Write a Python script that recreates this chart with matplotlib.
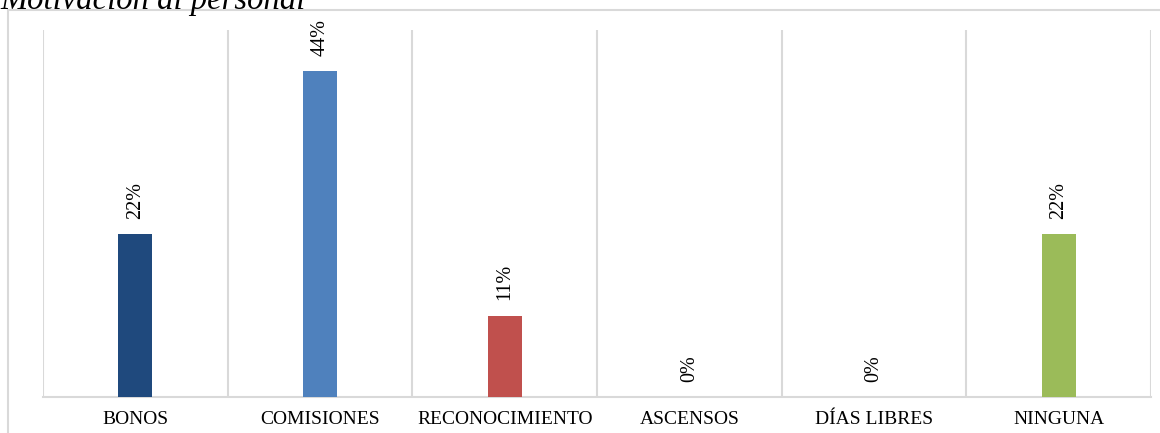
import matplotlib.pyplot as plt
from matplotlib.patches import Rectangle

categorias = ['BONOS', 'COMISIONES', 'RECONOCIMIENTO', 'ASCENSOS', 'DÍAS LIBRES', 'NINGUNA']
valores = [0.222, 0.444, 0.111, 0.0, 0.0, 0.222]
etiquetas = ['22%', '44%', '11%', '0%', '0%', '22%']
colores = ['#1F497D', '#4F81BD', '#C0504D', '#4F81BD', '#4F81BD', '#9BBB59']
titulo = 'Motivación al personal'

plt.rcParams['font.family'] = ['Liberation Serif', 'DejaVu Serif']

W, H = 1160, 433
fig = plt.figure(figsize=(W / 100, H / 100), dpi=100)

# marco exterior gris (cortado a la derecha y abajo)
fig.patches.append(Rectangle((8 / W, -0.1), 1.2, (H - 10) / H + 0.1,
                             transform=fig.transFigure, fill=False,
                             edgecolor='#D9D9D9', linewidth=1.5, zorder=0))

ax = fig.add_axes([43 / W, (H - 397) / H, (1151 - 43) / W, (397 - 30) / H])
x = list(range(len(categorias)))
ax.bar(x, valores, width=0.185, color=colores, zorder=3)

for xi, v, lab in zip(x, valores, etiquetas):
    ax.annotate(lab, (xi, v), xytext=(0, 11), textcoords='offset points',
                rotation=90, ha='center', va='bottom', fontsize=14.5, color='#000000')

ax.set_xlim(-0.5, len(categorias) - 0.5)
ax.set_ylim(0, 0.5)
for b in range(len(categorias) + 1):
    ax.axvline(b - 0.5, color='#D9D9D9', linewidth=1.5, zorder=1)

ax.set_xticks(x)
ax.set_xticklabels(categorias, fontsize=14)
ax.tick_params(axis='x', length=0, pad=10)
ax.set_yticks([])
for s in ['top', 'left', 'right']:
    ax.spines[s].set_visible(False)
ax.spines['bottom'].set_color('#D9D9D9')
ax.spines['bottom'].set_linewidth(1.5)

fig.text(0, 1 - 9 / H, titulo, fontsize=23.5, style='italic', ha='left', va='baseline')

fig.savefig('out.png', dpi=100)
